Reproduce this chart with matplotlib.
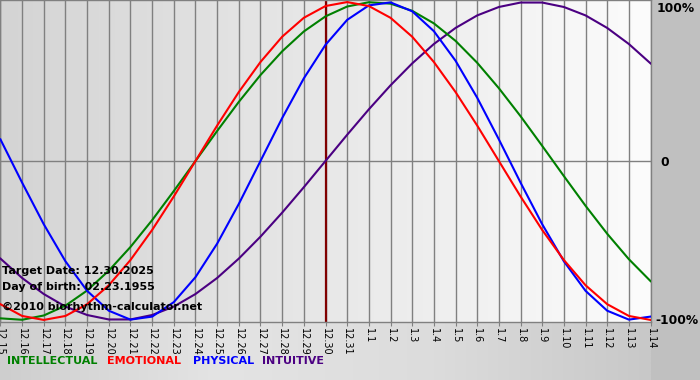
import numpy as np
import matplotlib
matplotlib.use("Agg")
import matplotlib.pyplot as plt
from matplotlib.colors import LinearSegmentedColormap

# days relative to target date 12.30.2025
days = list(range(-15, 16))
labels = ["12.15", "12.16", "12.17", "12.18", "12.19", "12.20", "12.21", "12.22",
          "12.23", "12.24", "12.25", "12.26", "12.27", "12.28", "12.29", "12.30",
          "12.31", "1.1", "1.2", "1.3", "1.4", "1.5", "1.6", "1.7", "1.8", "1.9",
          "1.10", "1.11", "1.12", "1.13", "1.14"]

physical = [0.136, -0.136, -0.398, -0.631, -0.817, -0.942, -0.998, -0.979, -0.888,
            -0.731, -0.520, -0.270, 0.0, 0.270, 0.520, 0.731, 0.888, 0.979, 0.998,
            0.942, 0.817, 0.631, 0.398, 0.136, -0.136, -0.398, -0.631, -0.817,
            -0.942, -0.998, -0.979]
emotional = [-0.901, -0.975, -1.0, -0.975, -0.901, -0.782, -0.623, -0.434, -0.223,
             0.0, 0.223, 0.434, 0.623, 0.782, 0.901, 0.975, 1.0, 0.975, 0.901,
             0.782, 0.623, 0.434, 0.223, 0.0, -0.223, -0.434, -0.623, -0.782,
             -0.901, -0.975, -1.0]
intellectual = [-0.990, -0.999, -0.972, -0.910, -0.815, -0.690, -0.541, -0.372,
                -0.189, 0.0, 0.189, 0.372, 0.541, 0.690, 0.815, 0.910, 0.972,
                0.999, 0.990, 0.945, 0.866, 0.756, 0.618, 0.458, 0.282, 0.095,
                -0.095, -0.282, -0.458, -0.618, -0.756]
intuitive = [-0.614, -0.736, -0.837, -0.916, -0.969, -0.997, -0.997, -0.969, -0.916,
             -0.837, -0.736, -0.614, -0.476, -0.325, -0.165, 0.0, 0.165, 0.325,
             0.476, 0.614, 0.736, 0.837, 0.916, 0.969, 0.997, 0.997, 0.969, 0.916,
             0.837, 0.736, 0.614]

W, H = 700, 380
fig = plt.figure(figsize=(7, 3.8), dpi=100)
fig.patch.set_facecolor("#c4c4c4")

# background: bottom strip gradient + right grey panel
bg = fig.add_axes([0, 0, 1, 1], zorder=0)
bg.set_axis_off()
bg_cmap = LinearSegmentedColormap.from_list("bg", ["#cecece", "#e4e4e4", "#dcdcdc", "#c8c8c8"])
bg.imshow(np.linspace(0, 1, 256)[None, :], aspect="auto", cmap=bg_cmap,
          extent=[0, 651, 0, H - 322])
bg.add_patch(plt.Rectangle((651, 0), W - 651, H, color="#c0c0c0", lw=0))
bg.set_xlim(0, W)
bg.set_ylim(0, H)

ax = fig.add_axes([0, 1 - 322 / H, 651 / W, 322 / H], zorder=1)
ax.set_xlim(-15.02, 15.02)
ax.set_ylim(-1.013, 1.013)

plot_cmap = LinearSegmentedColormap.from_list("pl", ["#d4d4d4", "#fcfcfc"])
ax.imshow(np.linspace(0, 1, 256)[None, :], aspect="auto", cmap=plot_cmap,
          extent=[-15.02, 15.02, -1.013, 1.013], zorder=0)

for d in days:
    ax.axvline(d, color="#808080", lw=1.0, zorder=1)
ax.axhline(0, color="#808080", lw=1.0, zorder=1)
ax.axvline(0, color="#800000", lw=1.6, zorder=2)

ax.plot(days, intuitive, color="#4b0082", lw=1.5, zorder=3)
ax.plot(days, intellectual, color="#008000", lw=1.5, zorder=4)
ax.plot(days, physical, color="#0000ff", lw=1.5, zorder=5)
ax.plot(days, emotional, color="#ff0000", lw=1.5, zorder=6)

for s in ax.spines.values():
    s.set_color("#808080")
    s.set_linewidth(1.0)

ax.set_yticks([])
ax.set_xticks(days)
ax.set_xticklabels(labels, rotation=270, fontsize=7)
ax.tick_params(axis="x", length=3, color="#808080", pad=1)

ax.text(0.003, 0.158, "Target Date: 12.30.2025", transform=ax.transAxes,
        fontsize=8, fontweight="bold", va="center", zorder=7)
ax.text(0.003, 0.108, "Day of birth: 02.23.1955", transform=ax.transAxes,
        fontsize=8, fontweight="bold", va="center", zorder=7)
ax.text(0.003, 0.046, "\u00a92010 biorhythm-calculator.net", transform=ax.transAxes,
        fontsize=8, fontweight="bold", va="center", zorder=7)

fig.text(657 / W, 1 - 8 / H, "100%", fontsize=8.8, fontweight="bold", va="center")
fig.text(660 / W, 1 - 162 / H, "0", fontsize=8.8, fontweight="bold", va="center")
fig.text(655 / W, 1 - 321 / H, "-100%", fontsize=8.8, fontweight="bold", va="center")

legend = [("INTELLECTUAL", "#008000", 7), ("EMOTIONAL", "#ff0000", 107),
          ("PHYSICAL", "#0000ff", 193), ("INTUITIVE", "#4b0082", 262)]
for name, col, x in legend:
    fig.text(x / W, 1 - 361 / H, name, color=col, fontsize=8, fontweight="bold",
             va="center")

fig.savefig("out.png", dpi=100, facecolor=fig.get_facecolor())
